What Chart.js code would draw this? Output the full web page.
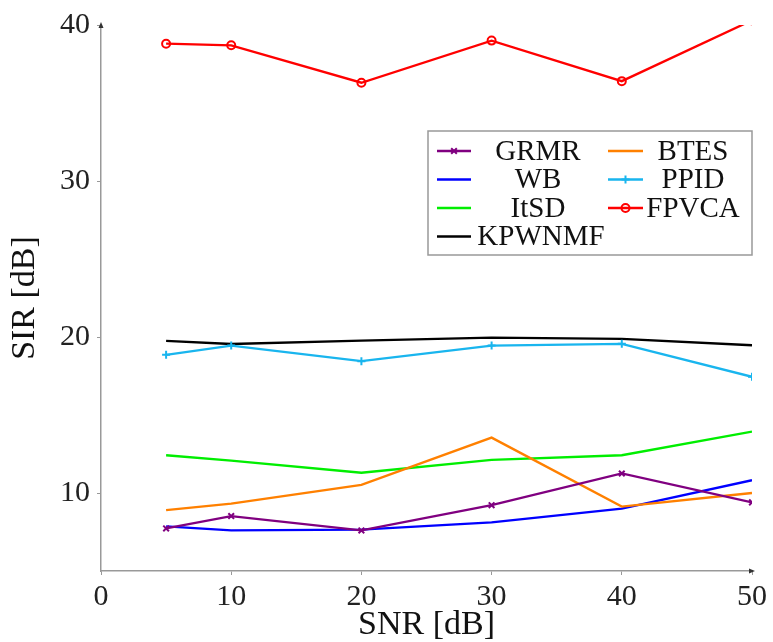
<!DOCTYPE html>
<html>
<head>
<meta charset="utf-8">
<script src="https://cdn.jsdelivr.net/npm/chart.js@4/dist/chart.umd.min.js"></script>
<style>
  html, body { margin: 0; padding: 0; background: #fff; }
  #wrap { width: 773px; height: 642px; }
</style>
</head>
<body>
<div id="wrap"><canvas id="c" width="773" height="642"></canvas></div>
<script>
// SNR values (x) and SIR results per method
var snr = [5, 10, 20, 30, 40, 50]
var grmr = [7.73, 8.52, 7.6, 9.22, 11.25, 9.4]
var btes = [8.9, 9.32, 10.52, 13.55, 9.13, 10.0]
var wb = [7.86, 7.6, 7.65, 8.12, 9.0, 10.82]
var ppid = [18.86, 19.45, 18.45, 19.45, 19.56, 17.45]
var itsd = [12.42, 12.08, 11.3, 12.12, 12.42, 13.93]
var fpvca = [38.8, 38.7, 36.3, 39.0, 36.4, 40.3]
var kpwnmf = [19.75, 19.55, 19.77, 19.96, 19.88, 19.47]

var xTicks = [0, 10, 20, 30, 40, 50]
var yTicks = [10, 20, 30, 40]

var serif = '"Liberation Serif", "DejaVu Serif", serif'

function pts(ys) {
    return snr.map(function(x, i) { return { x: x, y: ys[i] } })
}

function series(label, ys, color, marker) {
    return {
        label: label,
        data: pts(ys),
        borderColor: color,
        backgroundColor: marker === 'circle' ? 'rgba(0,0,0,0)' : color,
        borderWidth: 2.3,
        pointStyle: marker || false,
        pointRadius: marker ? 4 : 0,
        pointBorderWidth: 2,
        tension: 0
    }
}

// pgfplots style legend drawn inside the plot, two columns filled row-wise
var legendBox = {
    id: 'legendBox',
    afterDraw: function(chart) {
        var ctx = chart.ctx
        var box = { x: 428, y: 131, w: 324, h: 124 }
        ctx.save()
        ctx.fillStyle = '#fff'
        ctx.fillRect(box.x, box.y, box.w, box.h)
        ctx.strokeStyle = '#999'
        ctx.lineWidth = 1.5
        ctx.strokeRect(box.x, box.y, box.w, box.h)
        var cols = [{ x0: 437, x1: 471, tx: 538 }, { x0: 608, x1: 643, tx: 693 }]
        var rows = [151, 179.5, 208, 236.5]
        ctx.font = '29px ' + serif
        ctx.textAlign = 'center'
        ctx.textBaseline = 'middle'
        chart.data.datasets.forEach(function(ds, i) {
            var c = cols[i % 2]
            var y = rows[Math.floor(i / 2)]
            var mx = (c.x0 + c.x1) / 2
            ctx.strokeStyle = ds.borderColor
            ctx.lineWidth = 2.3
            ctx.beginPath()
            ctx.moveTo(c.x0, y)
            ctx.lineTo(c.x1, y)
            ctx.stroke()
            if (ds.pointStyle) {
                ctx.lineWidth = 2
                ctx.fillStyle = ds.backgroundColor
                ctx.strokeStyle = ds.borderColor
                if (ds.pointStyle === 'circle') {
                    ctx.beginPath()
                    ctx.arc(mx, y, ds.pointRadius, 0, Math.PI * 2)
                    ctx.stroke()
                } else {
                    Chart.helpers.drawPoint(ctx, {
                        pointStyle: ds.pointStyle,
                        radius: ds.pointRadius,
                        borderWidth: 2
                    }, mx, y)
                }
            }
            ctx.fillStyle = '#111'
            var tx = ds.label === 'KPWNMF' ? 541 : c.tx
            ctx.fillText(ds.label, tx, y + 1)
        })
        ctx.restore()
    }
}

// small arrow heads at the end of both axes
var axisArrows = {
    id: 'axisArrows',
    afterDraw: function(chart) {
        var a = chart.chartArea
        var ctx = chart.ctx
        ctx.save()
        ctx.fillStyle = '#333'
        ctx.beginPath()
        ctx.moveTo(a.left, a.top - 3)
        ctx.lineTo(a.left - 2.5, a.top + 3)
        ctx.lineTo(a.left + 2.5, a.top + 3)
        ctx.closePath()
        ctx.fill()
        ctx.beginPath()
        ctx.moveTo(a.right + 3, a.bottom)
        ctx.lineTo(a.right - 3, a.bottom - 2.5)
        ctx.lineTo(a.right - 3, a.bottom + 2.5)
        ctx.closePath()
        ctx.fill()
        ctx.restore()
    }
}

var chart = new Chart(document.getElementById('c'), {
    type: 'line',
    data: {
        datasets: [
            series('GRMR', grmr, '#800080', 'crossRot'),
            series('BTES', btes, '#ff8000'),
            series('WB', wb, '#0000ff'),
            series('PPID', ppid, '#19b5ee', 'cross'),
            series('ItSD', itsd, '#00ee00'),
            series('FPVCA', fpvca, '#ff0000', 'circle'),
            series('KPWNMF', kpwnmf, '#000000')
        ]
    },
    options: {
        responsive: false,
        animation: false,
        layout: { padding: { left: 0, right: 21, top: 22, bottom: 0 } },
        plugins: {
            legend: { display: false },
            tooltip: { enabled: false }
        },
        scales: {
            x: {
                type: 'linear',
                min: 0,
                max: 50,
                afterBuildTicks: function(scale) {
                    scale.ticks = xTicks.map(function(v) { return { value: v } })
                },
                afterFit: function(scale) { scale.height = 71 },
                grid: { drawOnChartArea: false, tickLength: 4, color: '#999', lineWidth: 1 },
                border: { color: '#999', width: 1.5 },
                ticks: { color: '#222', padding: 4, maxRotation: 0, font: { family: serif, size: 30 } },
                title: {
                    display: true,
                    text: 'SNR [dB]',
                    color: '#111',
                    padding: { top: 0, bottom: -3 },
                    font: { family: serif, size: 34 }
                }
            },
            y: {
                min: 5,
                max: 40,
                afterBuildTicks: function(scale) {
                    scale.ticks = yTicks.map(function(v) { return { value: v } })
                },
                afterFit: function(scale) { scale.width = 101 },
                grid: { drawOnChartArea: false, tickLength: 4, color: '#999', lineWidth: 1 },
                border: { color: '#999', width: 1.5 },
                ticks: { color: '#222', padding: 7, font: { family: serif, size: 30 } },
                title: {
                    display: true,
                    text: 'SIR [dB]',
                    color: '#111',
                    padding: { top: 5, bottom: 0 },
                    font: { family: serif, size: 34 }
                }
            }
        }
    },
    plugins: [legendBox, axisArrows]
})
</script>
</body>
</html>
